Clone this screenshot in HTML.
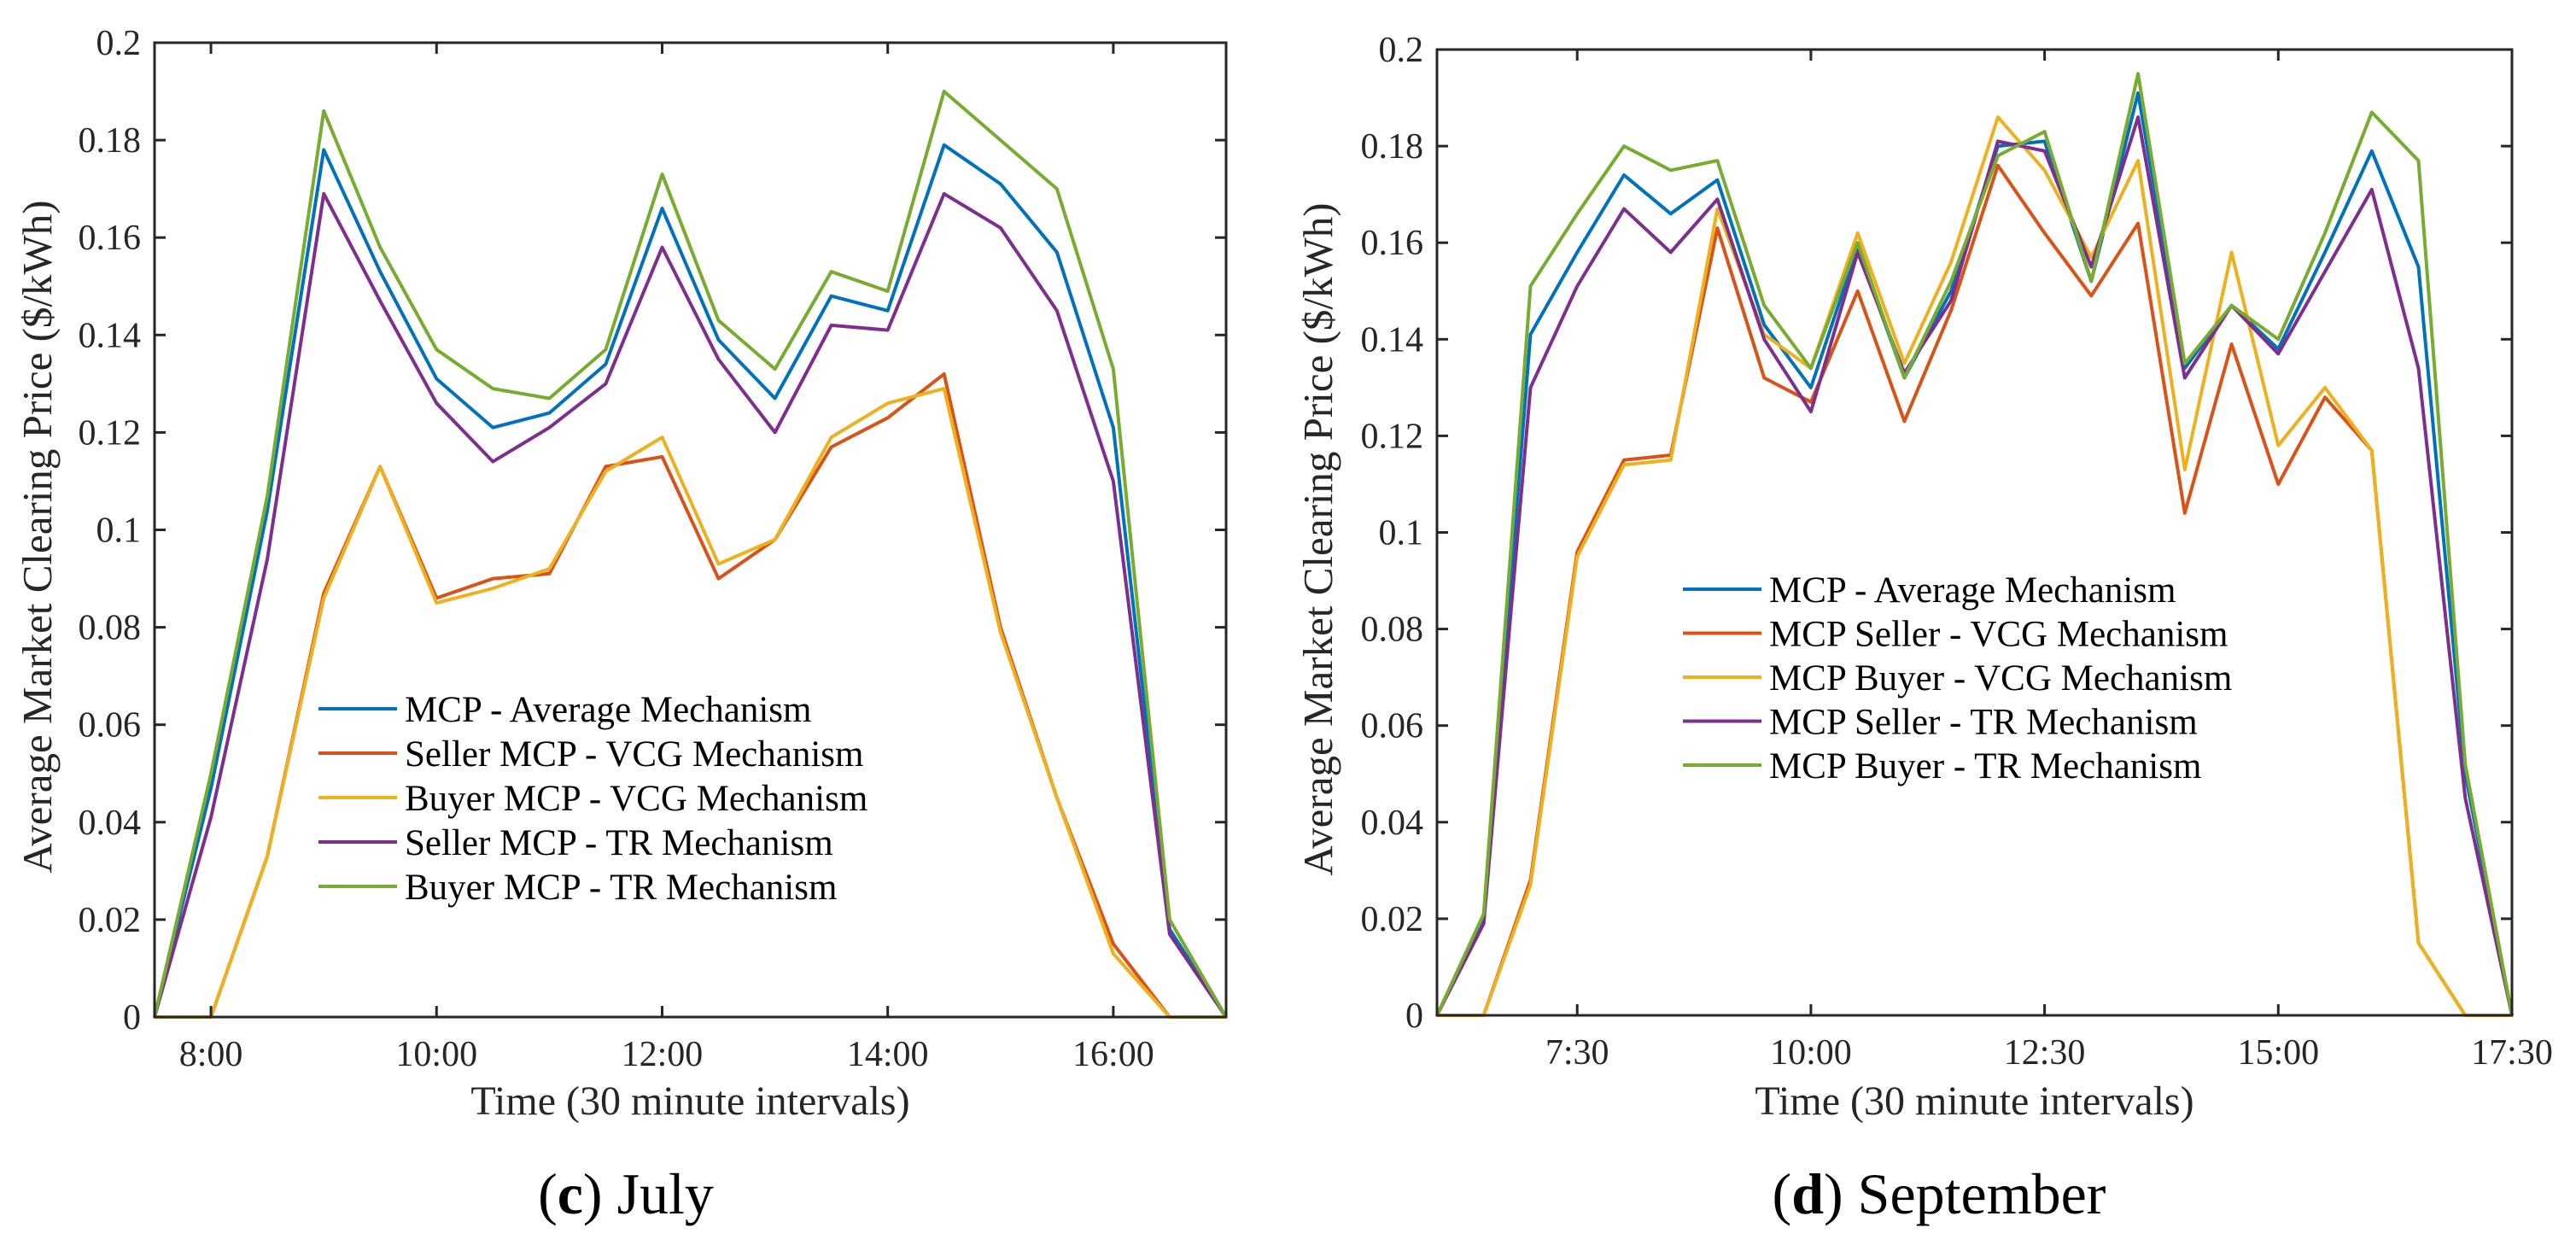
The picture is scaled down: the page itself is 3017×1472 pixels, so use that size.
<!DOCTYPE html>
<html><head><meta charset="utf-8">
<style>
html,body{margin:0;padding:0;background:#fff;}
svg{display:block;font-family:"Liberation Serif",serif;}
</style></head>
<body>
<svg id="fig" width="3017" height="1472" viewBox="0 0 3017 1472" xmlns="http://www.w3.org/2000/svg"></svg>
<script>
// ---- July data (7:30 .. 17:00, 30-min steps) ----
const julyTimes = ["7:30","8:00","8:30","9:00","9:30","10:00","10:30","11:00","11:30","12:00","12:30","13:00","13:30","14:00","14:30","15:00","15:30","16:00","16:30","17:00"];
const julyAvg = [0,0.047,0.104,0.178,0.153,0.131,0.121,0.124,0.134,0.166,0.139,0.127,0.148,0.145,0.179,0.171,0.157,0.121,0.018,0];
const julySellerVCG = [0,0,0.033,0.087,0.113,0.086,0.090,0.091,0.113,0.115,0.090,0.098,0.117,0.123,0.132,0.080,0.045,0.015,0,0];
const julyBuyerVCG = [0,0,0.033,0.086,0.113,0.085,0.088,0.092,0.112,0.119,0.093,0.098,0.119,0.126,0.129,0.079,0.045,0.013,0,0];
const julySellerTR = [0,0.041,0.094,0.169,0.147,0.126,0.114,0.121,0.130,0.158,0.135,0.120,0.142,0.141,0.169,0.162,0.145,0.110,0.017,0];
const julyBuyerTR = [0,0.050,0.107,0.186,0.158,0.137,0.129,0.127,0.137,0.173,0.143,0.133,0.153,0.149,0.190,0.180,0.170,0.133,0.020,0];
const julyTickLabels = ["8:00","10:00","12:00","14:00","16:00"];
const julyLegend = ["MCP - Average Mechanism","Seller MCP - VCG Mechanism","Buyer MCP - VCG Mechanism","Seller MCP - TR Mechanism","Buyer MCP - TR Mechanism"];

// ---- September data (6:00 .. 17:30) ----
const sepTimes = ["6:00","6:30","7:00","7:30","8:00","8:30","9:00","9:30","10:00","10:30","11:00","11:30","12:00","12:30","13:00","13:30","14:00","14:30","15:00","15:30","16:00","16:30","17:00","17:30"];
const sepAvg = [0,0.020,0.141,0.158,0.174,0.166,0.173,0.143,0.130,0.159,0.132,0.150,0.180,0.181,0.152,0.191,0.134,0.147,0.138,0.158,0.179,0.155,0.050,0];
const sepSellerVCG = [0,0,0.028,0.096,0.115,0.116,0.163,0.132,0.127,0.150,0.123,0.146,0.176,0.162,0.149,0.164,0.104,0.139,0.110,0.128,0.117,0.015,0,0];
const sepBuyerVCG = [0,0,0.027,0.095,0.114,0.115,0.167,0.141,0.134,0.162,0.135,0.156,0.186,0.175,0.157,0.177,0.113,0.158,0.118,0.130,0.117,0.015,0,0];
const sepSellerTR = [0,0.019,0.130,0.151,0.167,0.158,0.169,0.140,0.125,0.158,0.133,0.148,0.181,0.179,0.155,0.186,0.132,0.147,0.137,0.154,0.171,0.134,0.045,0];
const sepBuyerTR = [0,0.021,0.151,0.166,0.180,0.175,0.177,0.147,0.134,0.160,0.132,0.152,0.178,0.183,0.152,0.195,0.135,0.147,0.140,0.162,0.187,0.177,0.052,0];
const sepTickLabels = ["7:30","10:00","12:30","15:00","17:30"];
const sepLegend = ["MCP - Average Mechanism","MCP Seller - VCG Mechanism","MCP Buyer - VCG Mechanism","MCP Seller - TR Mechanism","MCP Buyer - TR Mechanism"];

const yTickValues = [0,0.02,0.04,0.06,0.08,0.1,0.12,0.14,0.16,0.18,0.2];
const yTickLabels = ["0","0.02","0.04","0.06","0.08","0.1","0.12","0.14","0.16","0.18","0.2"];

const colors = ["#0072BD","#D95319","#EDB120","#7E2F8E","#77AC30"];
const seriesNames = ["average","seller-vcg","buyer-vcg","seller-tr","buyer-tr"];
const NS = "http://www.w3.org/2000/svg";
const svg = document.getElementById("fig");

function mk(tag, attrs, parent){
  const e = document.createElementNS(NS, tag);
  for (const k in attrs) e.setAttribute(k, attrs[k]);
  (parent||svg).appendChild(e);
  return e;
}

function drawChart(cfg){
  const g = mk("g", {});
  
  
  const L=cfg.left,R=cfg.right,T=cfg.top,B=cfg.bottom;
  const n = cfg.times.length;
  const xs = i => L + (R-L)*i/(n-1);
  const ys = v => B - (B-T)*v/0.2;
  cfg.series.forEach((arr, s) => {
    let d = arr.map((v,i)=> (i?"L":"M")+xs(i).toFixed(1)+","+ys(v).toFixed(1)).join(" ");
    const p = mk("path", {d:d, fill:"none", stroke:colors[s], "stroke-width":4, "stroke-linejoin":"round"}, g);
    
    
  });
  const box = mk("rect", {x:L,y:T,width:R-L,height:B-T,fill:"none",stroke:"#262626","stroke-width":3}, g);
  
  
  yTickValues.forEach((v,i)=>{
    const y = ys(v);
    mk("line",{x1:L,x2:L+13,y1:y,y2:y,stroke:"#262626","stroke-width":3},g);
    mk("line",{x1:R,x2:R-13,y1:y,y2:y,stroke:"#262626","stroke-width":3},g);
    const t = mk("text",{x:L-16,y:y+14,"text-anchor":"end","font-size":42,fill:"#262626"},g);
    t.textContent = yTickLabels[i];
    
    
  });
  cfg.tickLabels.forEach(lbl=>{
    const i = cfg.times.indexOf(lbl);
    const x = xs(i);
    mk("line",{x1:x,x2:x,y1:B,y2:B-13,stroke:"#262626","stroke-width":3},g);
    mk("line",{x1:x,x2:x,y1:T,y2:T+13,stroke:"#262626","stroke-width":3},g);
    const t = mk("text",{x:x,y:B+57,"text-anchor":"middle","font-size":42,fill:"#262626"},g);
    t.textContent = lbl;
    
    
  });
  const xt = mk("text",{x:(L+R)/2,y:1305,"text-anchor":"middle","font-size":48,fill:"#262626"},g);
  xt.textContent = "Time (30 minute intervals)";
  
  
  const yt = mk("text",{x:0,y:0,"text-anchor":"middle","font-size":49,fill:"#262626",transform:"translate("+(cfg.ytitleX)+","+((T+B)/2+8)+") rotate(-90)"},g);
  yt.textContent = "Average Market Clearing Price ($/kWh)";
  
  
  cfg.legend.forEach((lbl,s)=>{
    const y = cfg.legY + s*cfg.legStep;
    const le = mk("g",{},g);
    
    
    mk("line",{x1:cfg.legX,x2:cfg.legX+92,y1:y,y2:y,stroke:colors[s],"stroke-width":4},le);
    const t = mk("text",{x:cfg.legX+101,y:y+15,"font-size":43,fill:"#000"},le);
    t.textContent = lbl;
  });
  const cap = mk("text",{x:cfg.capX,y:1421,"text-anchor":"middle","font-size":68,fill:"#000"},g);
  
  
  const b1 = mk("tspan",{},cap); b1.textContent="(";
  const b2 = mk("tspan",{"font-weight":"bold"},cap); b2.textContent=cfg.capLetter;
  const b3 = mk("tspan",{},cap); b3.textContent=") "+cfg.capText;
}

drawChart({id:"july", left:181, right:1436, top:50, bottom:1191, times:julyTimes,
  series:[julyAvg,julySellerVCG,julyBuyerVCG,julySellerTR,julyBuyerTR],
  tickLabels:julyTickLabels, legend:julyLegend, legX:373, legY:830, legStep:52,
  ytitleX:60, capX:733, capLetter:"c", capText:"July"});
drawChart({id:"september", left:1683, right:2942, top:58, bottom:1189, times:sepTimes,
  series:[sepAvg,sepSellerVCG,sepBuyerVCG,sepSellerTR,sepBuyerTR],
  tickLabels:sepTickLabels, legend:sepLegend, legX:1971, legY:690, legStep:51.5,
  ytitleX:1560, capX:2271, capLetter:"d", capText:"September"});
</script>
</body></html>
